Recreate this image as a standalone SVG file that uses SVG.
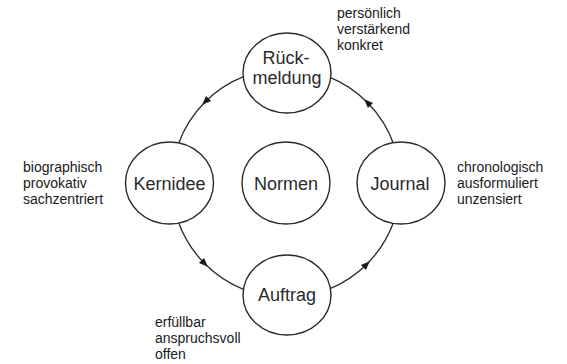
<svg xmlns="http://www.w3.org/2000/svg" width="567" height="364" viewBox="0 0 567 364">
<style>
.node ellipse{fill:#fff;stroke:#2a2a2a;stroke-width:1.4}
.node text{font-family:"Liberation Sans",Arial,sans-serif;font-size:18px;fill:#2a2a2a;text-anchor:middle}
.lbl{font-family:"Liberation Sans",Arial,sans-serif;font-size:14px;fill:#1a1a1a}
.conn path{fill:none;stroke:#2a2a2a;stroke-width:1.3;marker-mid:url(#arr)}
</style>
<defs>
<marker id="arr" markerUnits="userSpaceOnUse" viewBox="-6 -5 11 10" markerWidth="11" markerHeight="10" refX="0" refY="0" orient="auto">
<path d="M4,0 L-5,-3.6 L-5,3.6 Z" fill="#1a1a1a"/>
</marker>
</defs>
<rect width="567" height="364" fill="#fff"/>
<g id="connectors" class="conn">
<path d="M244.04,76.47 A114.5,114.5 0 0 0 205.04,102.04 A114.5,114.5 0 0 0 177.74,145.72"/>
<path d="M177.74,220.28 A114.5,114.5 0 0 0 205.04,263.96 A114.5,114.5 0 0 0 244.04,289.53"/>
<path d="M328.89,289.16 A114.5,114.5 0 0 0 366.96,263.96 A114.5,114.5 0 0 0 394.26,220.28"/>
<path d="M394.26,145.72 A114.5,114.5 0 0 0 366.96,102.04 A114.5,114.5 0 0 0 328.89,76.84"/>
</g>
<g id="rueckmeldung" class="node">
<ellipse cx="287" cy="73" rx="44" ry="40"/>
<text x="286" y="64">Rück-</text>
<text x="287" y="84">meldung</text>
</g>
<g id="kernidee" class="node">
<ellipse cx="169.5" cy="183" rx="44" ry="41"/>
<text x="169.5" y="189.5">Kernidee</text>
</g>
<g id="normen" class="node">
<ellipse cx="286" cy="183" rx="44" ry="41"/>
<text x="286" y="189.5">Normen</text>
</g>
<g id="journal" class="node">
<ellipse cx="401" cy="183" rx="44" ry="41"/>
<text x="400" y="189.5">Journal</text>
</g>
<g id="auftrag" class="node">
<ellipse cx="287" cy="295" rx="44" ry="40"/>
<text x="287" y="301">Auftrag</text>
</g>
<g id="label-top" class="lbl">
<text x="337" y="18">persönlich</text>
<text x="337" y="34">verstärkend</text>
<text x="337" y="50">konkret</text>
</g>
<g id="label-left" class="lbl">
<text x="23" y="172">biographisch</text>
<text x="23" y="188">provokativ</text>
<text x="23" y="204">sachzentriert</text>
</g>
<g id="label-right" class="lbl">
<text x="457" y="172">chronologisch</text>
<text x="457" y="188">ausformuliert</text>
<text x="457" y="204">unzensiert</text>
</g>
<g id="label-bottom" class="lbl">
<text x="155" y="327">erfüllbar</text>
<text x="155" y="343">anspruchsvoll</text>
<text x="155" y="359">offen</text>
</g>
</svg>
